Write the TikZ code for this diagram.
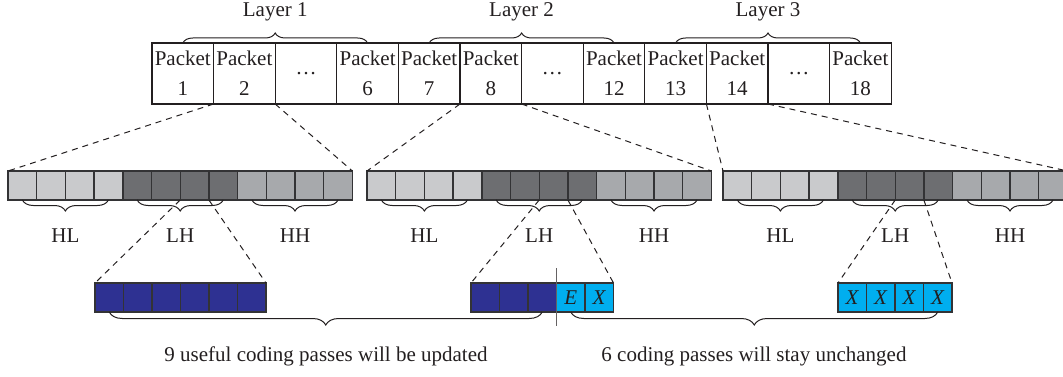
\documentclass[tikz,border=0pt]{standalone}
\usepackage{fontspec}
\setmainfont{Liberation Serif}
\usetikzlibrary{decorations.pathreplacing}
\definecolor{ink}{HTML}{231F20}
\definecolor{cellline}{HTML}{333335}
\definecolor{lightg}{HTML}{C9CACC}
\definecolor{darkg}{HTML}{6D6E71}
\definecolor{midg}{HTML}{A7A9AC}
\definecolor{navy}{HTML}{2E3192}
\definecolor{skyc}{HTML}{00AEEF}
\begin{document}
\begin{tikzpicture}[x=1pt,y=-1pt,
  font=\fontsize{21}{30}\selectfont, text=ink,
  packet/.style={draw=ink, line width=1.2pt, minimum width=61.6pt, minimum height=61pt,
    inner sep=0pt, outer sep=0pt, align=center},
  cell/.style={minimum width=28.7pt, minimum height=29pt, inner sep=0pt, outer sep=0pt},
  bcell/.style={minimum width=28.5pt, minimum height=29pt, inner sep=0pt, outer sep=0pt},
  cellborder/.style={draw=cellline, line width=1.4pt},
  braceup/.style={draw=ink, line width=1pt, decorate, decoration={brace, amplitude=10pt}},
  bracedown/.style={draw=ink, line width=1pt, decorate, decoration={brace, mirror, amplitude=11pt}},
  bracelow/.style={draw=ink, line width=1pt, decorate, decoration={brace, mirror, amplitude=13pt}},
  conn/.style={draw=ink, line width=1pt, dash pattern=on 6pt off 5pt},
  lbl/.style={anchor=base, inner sep=0pt}]
\useasboundingbox (0,0) rectangle (1063,377);

% packets
\foreach \i/\t in {1/{Packet\\1},2/{Packet\\2},3/{\dots},4/{Packet\\6},
                   5/{Packet\\7},6/{Packet\\8},7/{\dots},8/{Packet\\12},
                   9/{Packet\\13},10/{Packet\\14},11/{\dots},12/{Packet\\18}}
  \node[packet] (p\i) at ({152+61.6*(\i-0.5)},73.5) {\t};

% layer braces
\draw[braceup] (p1.north) -- (p4.north);
\draw[braceup] (p5.north) -- (p8.north);
\draw[braceup] (p9.north) -- (p12.north);
\node[lbl] (l1) at ({152+61.6*2},17) {Layer 1};
\node[lbl] (l2) at ({152+61.6*6},17) {Layer 2};
\node[lbl] (l3) at ({152+61.6*10},17) {Layer 3};

% subband cells
\foreach \g/\L in {1/8,2/367,3/723}{
  \foreach \k in {1,...,4}
    \node[cell, fill=lightg] (g\g c\k) at ({\L+28.7*(\k-0.5)},185.5) {};
  \foreach \k in {5,...,8}
    \node[cell, fill=darkg] (g\g c\k) at ({\L+28.7*(\k-0.5)},185.5) {};
  \foreach \k in {9,...,12}
    \node[cell, fill=midg] (g\g c\k) at ({\L+28.7*(\k-0.5)},185.5) {};
  \foreach \k in {1,...,12}
    \draw[cellborder] (g\g c\k.north west) rectangle (g\g c\k.south east);
  \draw[bracedown] (g\g c1.south) -- (g\g c4.south);
  \draw[bracedown] (g\g c5.south) -- (g\g c8.south);
  \draw[bracedown] (g\g c9.south) -- (g\g c12.south);
  \node[lbl] (hl\g) at ({\L+28.7*2},242) {HL};
  \node[lbl] (lh\g) at ({\L+28.7*6},242) {LH};
  \node[lbl] (hh\g) at ({\L+28.7*10},242) {HH};
}

% coding pass cells
\foreach \k in {1,...,6}
  \node[bcell, fill=navy] (a\k) at ({95+28.5*(\k-0.5)},297.5) {};
\foreach \k in {1,...,3}
  \node[bcell, fill=navy] (b\k) at ({471+28.5*(\k-0.5)},297.5) {};
\node[bcell, fill=skyc] (b4) at ({471+28.5*3.5},297.5) {\textit{E}};
\node[bcell, fill=skyc] (b5) at ({471+28.5*4.5},297.5) {\textit{X}};
\foreach \k in {1,...,4}
  \node[bcell, fill=skyc] (c\k) at ({838+28.5*(\k-0.5)},297.5) {\textit{X}};
\foreach \n in {a1,a2,a3,a4,a5,a6,b1,b2,b3,b4,b5,c1,c2,c3,c4}
  \draw[cellborder] (\n.north west) rectangle (\n.south east);

% separator
\draw[draw=ink!70, line width=1.2pt] (b4.west) ++(0,-29.5) -- ++(0,58);

% dashed connectors
\draw[conn] (p2.south west) -- (g1c1.north west);
\draw[conn] (p2.south east) -- (g1c12.north east);
\draw[conn] (p6.south west) -- (g2c1.north west);
\draw[conn] (p6.south east) -- (g2c12.north east);
\draw[conn] (p10.south west) -- (g3c1.north west);
\draw[conn] (p10.south east) -- (g3c12.north east);
\draw[conn] (g1c7.south west) -- (a1.north west);
\draw[conn] (g1c7.south east) -- (a6.north east);
\draw[conn] (g2c7.south west) -- (b1.north west);
\draw[conn] (g2c7.south east) -- (b5.north east);
\draw[conn] (g3c7.south west) -- (c1.north west);
\draw[conn] (g3c7.south east) -- (c4.north east);

% bottom braces
\draw[bracelow] (a1.south) -- (b3.south);
\draw[bracelow] (b4.south) -- (c4.south);
\node[lbl] (t1) at (326,361) {9 useful coding passes will be updated};
\node[lbl] (t2) at (754,361) {6 coding passes will stay unchanged};
\end{tikzpicture}
\end{document}
